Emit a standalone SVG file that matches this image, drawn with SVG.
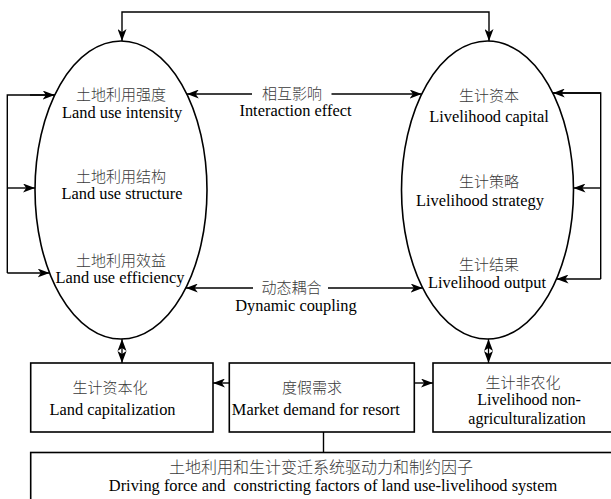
<svg xmlns="http://www.w3.org/2000/svg" width="611" height="499" viewBox="0 0 611 499">
<defs>
<marker id="ah" viewBox="0 0 12 9" refX="12" refY="4.5" markerWidth="12" markerHeight="9" markerUnits="userSpaceOnUse" orient="auto-start-reverse">
<path d="M0,0 L12,4.5 L0,9 L3.2,4.5 z" fill="#000"/>
</marker>
<style>
.ln{fill:none;stroke:#000;stroke-width:1.4}
.sh{fill:#fff;stroke:#000;stroke-width:1.6}
.zh{font-family:"Liberation Serif","Noto Sans CJK SC",serif;font-size:15px;font-weight:300;fill:#3a3a3a;text-anchor:middle}
.en{font-family:"Liberation Serif","Noto Sans CJK SC",serif;font-size:16.4px;fill:#000;text-anchor:middle}
.ar{fill:none;stroke:#000;stroke-width:1.4;marker-end:url(#ah)}
.ar2{fill:none;stroke:#000;stroke-width:1.4;marker-start:url(#ah);marker-end:url(#ah)}
</style>
</defs>
<rect width="611" height="499" fill="#fff"/>

<g id="land-use">
<ellipse class="sh" cx="121" cy="190" rx="86" ry="149"/>
<text class="zh" x="121" y="99.5">土地利用强度</text>
<text class="en" x="122" y="117.5">Land use intensity</text>
<text class="zh" x="121" y="181.5">土地利用结构</text>
<text class="en" x="122" y="198.5">Land use structure</text>
<text class="zh" x="121" y="266">土地利用效益</text>
<text class="en" x="120" y="282.5">Land use efficiency</text>
</g>

<g id="livelihood">
<ellipse class="sh" cx="487.5" cy="190" rx="86" ry="149"/>
<text class="zh" x="489" y="101">生计资本</text>
<text class="en" x="489" y="121.5">Livelihood capital</text>
<text class="zh" x="489" y="187">生计策略</text>
<text class="en" x="480" y="206">Livelihood strategy</text>
<text class="zh" x="489" y="270">生计结果</text>
<text class="en" x="487" y="288">Livelihood output</text>
</g>

<g id="box-capitalization">
<rect class="sh" x="30.7" y="363" width="182.3" height="69"/>
<text class="zh" x="110" y="393">生计资本化</text>
<text class="en" x="112.5" y="415">Land capitalization</text>
</g>

<g id="box-demand">
<rect class="sh" x="229.3" y="363" width="185" height="69"/>
<text class="zh" x="312" y="393">度假需求</text>
<text class="en" x="315.8" y="415">Market demand for resort</text>
</g>

<g id="box-nonagri">
<rect class="sh" x="433" y="363" width="182" height="69"/>
<text class="zh" x="523" y="388">生计非农化</text>
<text class="en" x="529" y="405" style="font-size:16px">Livelihood non-</text>
<text class="en" x="527" y="423.5" style="font-size:16px">agriculturalization</text>
</g>

<g id="box-driving">
<rect class="sh" x="30.7" y="452.5" width="584" height="60"/>
<text class="zh" x="321" y="473" style="font-size:16px">土地利用和生计变迁系统驱动力和制约因子</text>
<text class="en" x="333" y="491" xml:space="preserve">Driving force and  constricting factors of land use-livelihood system</text>
</g>

<g id="connectors">
<path class="ar2" d="M122,41 V12 H489 V41"/>
<path class="ln" d="M54.7,95 H7.3 V273"/>
<path class="ar" d="M30,95 H54.7"/>
<path class="ar" d="M7.3,188 H35"/>
<path class="ar" d="M7.3,273 H49.6"/>
<path class="ln" d="M552.8,93 H600.7 V279"/>
<path class="ar" d="M600.7,93 H552.8"/>
<path class="ar" d="M600.7,188 H573.5"/>
<path class="ar" d="M600.7,279 H556.5"/>
<path class="ar" d="M252,94 H186.8"/>
<path class="ar" d="M331.5,94 H421.7"/>
<text class="zh" x="292" y="98.5">相互影响</text>
<text class="en" x="295.5" y="115.5">Interaction effect</text>
<path class="ar" d="M253,288 H185.8"/>
<path class="ar" d="M328,288 H422.7"/>
<text class="zh" x="291.5" y="293">动态耦合</text>
<text class="en" x="296" y="310.5">Dynamic coupling</text>
<path class="ar" d="M229.3,383 H213"/>
<path class="ar" d="M414.3,383 H433"/>
<path class="ln" d="M323.5,432 V452.5"/>
<g id="diamond-left">
<line x1="122" y1="339" x2="122" y2="363" stroke="#000" stroke-width="1.3"/>
<path d="M122,339 L126.5,351 L122,348 L117.5,351 z M122,363 L126.5,351 L122,354 L117.5,351 z" fill="#000"/>
</g>
<g id="diamond-right">
<line x1="488.5" y1="339" x2="488.5" y2="363" stroke="#000" stroke-width="1.3"/>
<path d="M488.5,339 L493,351 L488.5,348 L484,351 z M488.5,363 L493,351 L488.5,354 L484,351 z" fill="#000"/>
</g>
</g>
</svg>
